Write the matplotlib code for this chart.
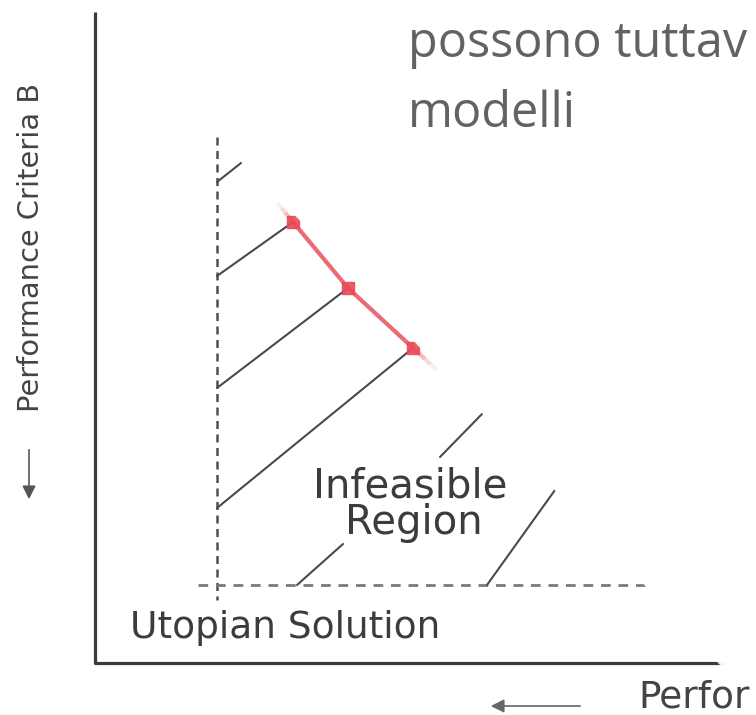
import matplotlib
matplotlib.use("Agg")
import matplotlib.pyplot as plt
from matplotlib.patches import Polygon, FancyArrowPatch
import numpy as np

# ---- diagram data (pixel space of the 756x715 slide) ----
axis_x = [95, 95, 740]
axis_y = [12, 663, 663]

utopia_vx = [217, 217]
utopia_vy = [137, 600]
utopia_hx = [198, 700]
utopia_hy = [585, 585]

hatch_x0 = [217, 217, 217, 217, 440, 297, 487]
hatch_y0 = [182, 276, 388, 508, 457, 585, 585]
hatch_x1 = [241, 293, 348, 413, 483, 343, 555]
hatch_y1 = [163, 222, 288, 348, 413, 544, 490]

pareto_x = [293, 348, 413]
pareto_y = [222, 288, 348]

edge_x = [91, 756]
edge_y = [0, 703]

fig = plt.figure(figsize=(7.56, 7.15), dpi=100)
ax = fig.add_axes([0, 0, 1, 1])
ax.set_xlim(0, 756)
ax.set_ylim(715, 0)
ax.axis("off")

# axes of the diagram
ax.plot(axis_x, axis_y, color="#3a3a3a", lw=2.3, solid_capstyle="butt")

# utopian dashed lines
ax.plot(utopia_vx, utopia_vy, color="#505050", lw=1.8, linestyle=(0, (3.2, 2.2)))
ax.plot(utopia_hx, utopia_hy, color="#7a7a7a", lw=2.0, linestyle=(0, (3.5, 2.8)))

# hatch lines
for x0, y0, x1, y1 in zip(hatch_x0, hatch_y0, hatch_x1, hatch_y1):
    ax.plot([x0, x1], [y0, y1], color="#4a4a4a", lw=1.5, solid_capstyle="round")

# pareto front (red) with faded ends
red = "#e8505c"
ax.plot(pareto_x, pareto_y, color=red, lw=3.0, alpha=0.85, solid_capstyle="butt")
px = np.array(pareto_x, float)
py = np.array(pareto_y, float)
d_start = np.array([px[0] - px[1], py[0] - py[1]]); d_start /= np.hypot(*d_start)
d_end = np.array([px[-1] - px[-2], py[-1] - py[-2]]); d_end /= np.hypot(*d_end)
for i, a in enumerate([0.6, 0.4, 0.22, 0.1]):
    s0, s1 = i * 6, (i + 1) * 6
    ax.plot([px[0] + d_start[0] * s0, px[0] + d_start[0] * s1],
            [py[0] + d_start[1] * s0, py[0] + d_start[1] * s1],
            color=red, lw=3.0, alpha=a, solid_capstyle="butt")
    s0, s1 = i * 8, (i + 1) * 8
    ax.plot([px[-1] + d_end[0] * s0, px[-1] + d_end[0] * s1],
            [py[-1] + d_end[1] * s0, py[-1] + d_end[1] * s1],
            color=red, lw=3.0, alpha=a, solid_capstyle="butt")
ax.plot(pareto_x, pareto_y, linestyle="none", marker="s", ms=9, color="#e84a57", alpha=0.9)

# white overlay (upper-right triangle) with soft edge
slope = (edge_y[1] - edge_y[0]) / (edge_x[1] - edge_x[0])
for k, a in zip([6, 4, 2, 0], [0.3, 0.5, 0.7, 0.9]):
    poly = Polygon([[edge_x[0] + k, edge_y[0]], [756, 0], [edge_x[1] + k, edge_y[1]]],
                   closed=True, facecolor="white", edgecolor="none", alpha=a, zorder=2.5)
    ax.add_patch(poly)
poly = Polygon([[edge_x[0] + 9, 0], [756, 0], [756, edge_y[1] - 9 * slope]],
               closed=True, facecolor="white", edgecolor="none", zorder=2.5)
ax.add_patch(poly)

# texts
ax.text(410.5, 497, "Infeasible", ha="center", va="baseline", fontsize=29,
        family="DejaVu Sans", color="#3c3c3c", zorder=4)
ax.text(413.5, 534, "Region", ha="center", va="baseline", fontsize=29,
        family="DejaVu Sans", color="#3c3c3c", zorder=4)
ax.text(130, 638, "Utopian Solution", ha="left", va="baseline", fontsize=27,
        family="DejaVu Sans", color="#3c3c3c", zorder=4)
ax.text(31, 248, "Performance Criteria B", ha="center", va="center", rotation=90,
        fontsize=20.8, family="DejaVu Sans", color="#444444", zorder=4)
ax.text(638, 707, "Perfor", ha="left", va="baseline", fontsize=27,
        family="DejaVu Sans", color="#444444", zorder=4)

ax.text(408, 57, "possono tuttav", ha="left", va="baseline", fontsize=35,
        family="Open Sans", color="#626262", zorder=4)
ax.text(408, 127, "modelli", ha="left", va="baseline", fontsize=35,
        family="Open Sans", color="#626262", zorder=4)

# arrows
ax.add_patch(FancyArrowPatch((29, 447), (29, 502), arrowstyle="-|>,head_length=8,head_width=4",
                             color="#555555", lw=1.2, mutation_scale=1, zorder=4))
ax.add_patch(FancyArrowPatch((583, 706), (488, 706), arrowstyle="-|>,head_length=8,head_width=4",
                             color="#666666", lw=1.2, mutation_scale=1, zorder=4))

fig.savefig("out.png", dpi=100)
